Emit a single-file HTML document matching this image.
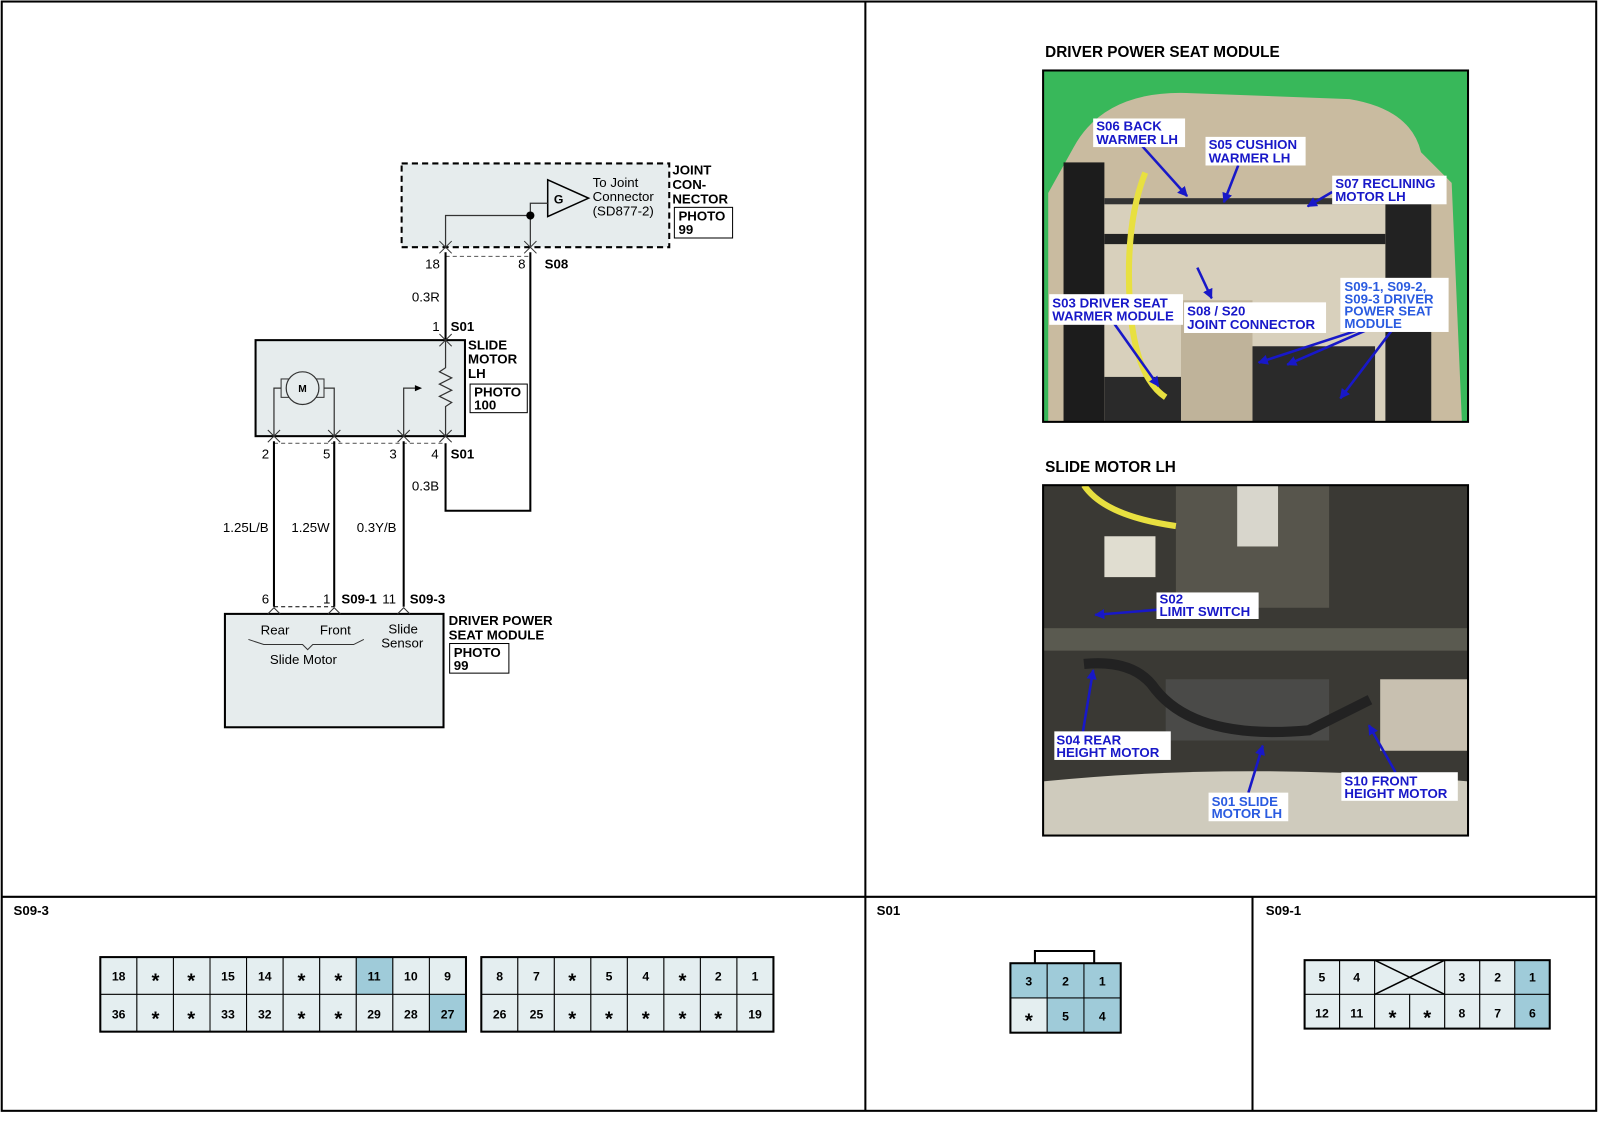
<!DOCTYPE html>
<html><head><meta charset="utf-8"><style>
html,body{margin:0;padding:0;background:#fff;width:1600px;height:1143px;overflow:hidden}
svg{display:block}
text{font-family:"Liberation Sans",Arial,sans-serif}
.b{font-weight:bold}
.c{text-anchor:middle;font-weight:bold;font-size:12px}
.s{text-anchor:middle;font-weight:bold;font-size:20px}
.lbl{font-weight:bold;font-size:13px;fill:#1818c8}
</style></head><body>
<svg width="1600" height="1143" viewBox="0 0 1566 1119" xmlns="http://www.w3.org/2000/svg">
<defs>
<marker id="ah" viewBox="0 0 10 10" refX="9" refY="5" markerWidth="4" markerHeight="4" orient="auto"><path d="M0,0 L10,5 L0,10 Z" fill="#1818c8"/></marker>
</defs>
<!-- frame -->
<rect x="1.5" y="1.5" width="1561" height="1086" fill="none" stroke="#000" stroke-width="2"/>
<line x1="847" y1="1" x2="847" y2="1088" stroke="#000" stroke-width="2"/>
<line x1="1" y1="878" x2="1563" y2="878" stroke="#000" stroke-width="2"/>
<line x1="1226" y1="878" x2="1226" y2="1088" stroke="#000" stroke-width="2"/>

<!-- ===== Schematic ===== -->
<rect x="393" y="160" width="262" height="82" fill="#e6eced" stroke="#000" stroke-width="2" stroke-dasharray="6,4"/>
<polygon points="536,176 536,212 576,194" fill="#e6eced" stroke="#000" stroke-width="1.5"/>
<text x="542" y="199" font-size="12" class="b">G</text>
<text x="580" y="183" font-size="13">To Joint</text>
<text x="580" y="197" font-size="13">Connector</text>
<text x="580" y="211" font-size="13">(SD877-2)</text>
<g fill="none" stroke="#333" stroke-width="1.2">
<polyline points="536,199 519,199 519,241"/>
<polyline points="519,211 436,211 436,241"/>
</g>
<circle cx="519" cy="211" r="4" fill="#000"/>
<g fill="none" stroke="#333" stroke-width="1">
<polyline points="430,236 436,242 442,236"/><polyline points="430,248 436,242 442,248"/>
<polyline points="513,236 519,242 525,236"/><polyline points="513,248 519,242 525,248"/>
</g>
<line x1="436" y1="251" x2="519" y2="251" stroke="#555" stroke-dasharray="4,3"/>
<text x="416" y="263" font-size="13">18</text>
<text x="507" y="263" font-size="13">8</text>
<text x="533" y="263" font-size="13" class="b">S08</text>
<g stroke="#000" stroke-width="2" fill="none">
<line x1="436" y1="247" x2="436" y2="333"/>
<polyline points="519,247 519,500 436,500 436,434"/>
</g>
<text x="403" y="295" font-size="13">0.3R</text>
<text x="423" y="324" font-size="13">1</text>
<text x="441" y="324" font-size="13" class="b">S01</text>
<rect x="250" y="333" width="205" height="94" fill="#e6eced" stroke="#000" stroke-width="2"/>
<g fill="none" stroke="#333" stroke-width="1">
<polyline points="430,339 436,333 442,339"/><polyline points="430,327 436,333 442,327"/>
</g>
<text x="458" y="342" font-size="13" class="b">SLIDE</text>
<text x="458" y="356" font-size="13" class="b">MOTOR</text>
<text x="458" y="370" font-size="13" class="b">LH</text>
<rect x="460" y="376" width="56" height="28" fill="#fff" stroke="#000"/>
<text x="464" y="388" font-size="13" class="b">PHOTO</text>
<text x="464" y="401" font-size="13" class="b">100</text>
<text x="658" y="171" font-size="13" class="b">JOINT</text>
<text x="658" y="185" font-size="13" class="b">CON-</text>
<text x="658" y="199" font-size="13" class="b">NECTOR</text>
<rect x="660" y="203" width="57" height="30" fill="#fff" stroke="#000"/>
<text x="664" y="216" font-size="13" class="b">PHOTO</text>
<text x="664" y="229" font-size="13" class="b">99</text>
<rect x="275" y="371" width="8" height="18" fill="#e6eced" stroke="#333"/>
<rect x="309" y="371" width="8" height="18" fill="#e6eced" stroke="#333"/>
<circle cx="296" cy="380" r="16" fill="#e6eced" stroke="#333" stroke-width="1.2"/>
<text x="296" y="384" font-size="10" text-anchor="middle" class="b">M</text>
<g fill="none" stroke="#333" stroke-width="1.2">
<polyline points="275,380 268,380 268,427"/>
<polyline points="317,380 327,380 327,427"/>
<polyline points="395,427 395,380 408,380"/>
<polyline points="436,333 436,360 430,364 442,370 430,376 442,382 430,388 442,394 436,398 436,427"/>
</g>
<polygon points="406,377 413,380 406,383" fill="#000"/>
<g fill="none" stroke="#333" stroke-width="1">
<polyline points="262,421 268,427 274,421"/><polyline points="262,433 268,427 274,433"/>
<polyline points="321,421 327,427 333,421"/><polyline points="321,433 327,427 333,433"/>
<polyline points="389,421 395,427 401,421"/><polyline points="389,433 395,427 401,433"/>
<polyline points="430,421 436,427 442,421"/><polyline points="430,433 436,427 442,433"/>
</g>
<line x1="268" y1="434" x2="436" y2="434" stroke="#666" stroke-dasharray="4,3"/>
<text x="256" y="449" font-size="13">2</text>
<text x="316" y="449" font-size="13">5</text>
<text x="381" y="449" font-size="13">3</text>
<text x="422" y="449" font-size="13">4</text>
<text x="441" y="449" font-size="13" class="b">S01</text>
<text x="403" y="480" font-size="13">0.3B</text>
<g stroke="#000" stroke-width="2">
<line x1="268" y1="432" x2="268" y2="594"/>
<line x1="327" y1="432" x2="327" y2="594"/>
<line x1="395" y1="432" x2="395" y2="594"/>
</g>
<text x="218" y="521" font-size="13">1.25L/B</text>
<text x="285" y="521" font-size="13">1.25W</text>
<text x="349" y="521" font-size="13">0.3Y/B</text>
<text x="256" y="591" font-size="13">6</text>
<text x="316" y="591" font-size="13">1</text>
<text x="334" y="591" font-size="13" class="b">S09-1</text>
<text x="374" y="591" font-size="13">11</text>
<text x="401" y="591" font-size="13" class="b">S09-3</text>
<line x1="268" y1="594" x2="327" y2="594" stroke="#000" stroke-dasharray="4,3"/>
<rect x="220" y="601" width="214" height="111" fill="#e6eced" stroke="#000" stroke-width="2"/>
<g fill="none" stroke="#333" stroke-width="1">
<polyline points="262,601 268,595 274,601"/>
<polyline points="321,601 327,595 333,601"/>
<polyline points="389,601 395,595 401,601"/>
<path d="M243,626 L258,631 L296,631 L301,636 L306,631 L346,631 L356,626"/>
</g>
<text x="255" y="621" font-size="13">Rear</text>
<text x="313" y="621" font-size="13">Front</text>
<text x="380" y="620" font-size="13">Slide</text>
<text x="373" y="634" font-size="13">Sensor</text>
<text x="264" y="650" font-size="13">Slide Motor</text>
<text x="439" y="612" font-size="13" class="b">DRIVER POWER</text>
<text x="439" y="626" font-size="13" class="b">SEAT MODULE</text>
<rect x="440" y="630" width="58" height="29" fill="#fff" stroke="#000"/>
<text x="444" y="643" font-size="13" class="b">PHOTO</text>
<text x="444" y="656" font-size="13" class="b">99</text>

<!-- ===== Photo 1 ===== -->
<text x="1023" y="56" font-size="15" class="b">DRIVER POWER SEAT MODULE</text>
<svg x="1021" y="69" width="416" height="344" viewBox="0 0 416 344">
<rect width="416" height="344" fill="#38b85a"/>
<path d="M30,75 Q60,20 140,22 L300,28 Q360,38 370,80 L400,110 L410,344 L5,344 L5,120 Z" fill="#c9bba0"/>
<rect x="20" y="90" width="40" height="254" fill="#1c1c1c"/>
<rect x="335" y="120" width="45" height="224" fill="#222"/>
<rect x="60" y="125" width="275" height="219" fill="#d8d0bc"/>
<rect x="60" y="160" width="275" height="10" fill="#222"/>
<rect x="60" y="125" width="275" height="6" fill="#333"/>
<rect x="135" y="225" width="70" height="119" fill="#bfb39a"/>
<rect x="205" y="270" width="120" height="74" fill="#2a2a2a"/>
<rect x="60" y="300" width="75" height="44" fill="#2a2a2a"/>
<path d="M100,100 Q80,150 85,230 Q90,300 120,320" stroke="#e8e040" stroke-width="6" fill="none"/>
</svg>
<g stroke="#1818c8" stroke-width="2.5" fill="none" marker-end="url(#ah)">
<line x1="1118" y1="143" x2="1162" y2="192"/>
<line x1="1212" y1="162" x2="1198" y2="198"/>
<line x1="1304" y1="188" x2="1280" y2="202"/>
<line x1="1172" y1="262" x2="1186" y2="292"/>
<line x1="1090" y1="316" x2="1134" y2="378"/>
<line x1="1330" y1="323" x2="1232" y2="355"/>
<line x1="1338" y1="323" x2="1260" y2="357"/>
<line x1="1362" y1="324" x2="1312" y2="390"/>
</g>
<rect x="1070" y="116" width="90" height="28" fill="#fff"/>
<text x="1073" y="128" class="lbl">S06 BACK</text><text x="1073" y="141" class="lbl">WARMER LH</text>
<rect x="1180" y="134" width="98" height="28" fill="#fff"/>
<text x="1183" y="146" class="lbl">S05 CUSHION</text><text x="1183" y="159" class="lbl">WARMER LH</text>
<rect x="1304" y="172" width="112" height="28" fill="#fff"/>
<text x="1307" y="184" class="lbl">S07 RECLINING</text><text x="1307" y="197" class="lbl">MOTOR LH</text>
<rect x="1027" y="288" width="131" height="30" fill="#fff"/>
<text x="1030" y="301" class="lbl">S03 DRIVER SEAT</text><text x="1030" y="314" class="lbl">WARMER MODULE</text>
<rect x="1159" y="296" width="139" height="30" fill="#fff"/>
<text x="1162" y="309" class="lbl">S08 / S20</text><text x="1162" y="322" class="lbl">JOINT CONNECTOR</text>
<rect x="1312" y="272" width="106" height="53" fill="#fff"/>
<text x="1316" y="285" class="lbl" style="fill:#2a5be0">S09-1, S09-2,</text>
<text x="1316" y="297" class="lbl" style="fill:#2a5be0">S09-3 DRIVER</text>
<text x="1316" y="309" class="lbl" style="fill:#2a5be0">POWER SEAT</text>
<text x="1316" y="321" class="lbl" style="fill:#2a5be0">MODULE</text>
<rect x="1021" y="69" width="416" height="344" fill="none" stroke="#000" stroke-width="2"/>

<!-- ===== Photo 2 ===== -->
<text x="1023" y="462" font-size="15" class="b">SLIDE MOTOR LH</text>
<svg x="1021" y="475" width="416" height="343" viewBox="0 0 416 343">
<rect width="416" height="343" fill="#3a3934"/>
<rect x="130" y="0" width="150" height="120" fill="#57554c"/>
<rect x="190" y="0" width="40" height="60" fill="#d8d6cc"/>
<rect x="60" y="50" width="50" height="40" fill="#e0ddd0"/>
<rect x="0" y="140" width="416" height="22" fill="#5a5a50"/>
<rect x="120" y="190" width="160" height="60" fill="#4a4a48"/>
<rect x="330" y="190" width="86" height="70" fill="#c8c0b0"/>
<path d="M0,290 Q200,270 416,290 L416,343 L0,343 Z" fill="#cfcbbd"/>
<path d="M40,0 Q60,30 130,40" stroke="#e8e040" stroke-width="6" fill="none"/>
<path d="M40,175 Q90,170 110,200 Q150,250 260,240 L320,210" stroke="#222" stroke-width="10" fill="none"/>
</svg>
<g stroke="#1818c8" stroke-width="2.5" fill="none" marker-end="url(#ah)">
<line x1="1132" y1="597" x2="1072" y2="602"/>
<line x1="1060" y1="716" x2="1070" y2="656"/>
<line x1="1222" y1="776" x2="1236" y2="730"/>
<line x1="1366" y1="756" x2="1340" y2="710"/>
</g>
<rect x="1132" y="580" width="100" height="26" fill="#fff"/>
<text x="1135" y="591" class="lbl">S02</text><text x="1135" y="603" class="lbl">LIMIT SWITCH</text>
<rect x="1032" y="716" width="114" height="28" fill="#fff"/>
<text x="1034" y="729" class="lbl">S04 REAR</text><text x="1034" y="741" class="lbl">HEIGHT MOTOR</text>
<rect x="1183" y="776" width="78" height="28" fill="#fff"/>
<text x="1186" y="789" class="lbl" style="fill:#2a5be0">S01 SLIDE</text><text x="1186" y="801" class="lbl" style="fill:#2a5be0">MOTOR LH</text>
<rect x="1313" y="756" width="114" height="28" fill="#fff"/>
<text x="1316" y="769" class="lbl">S10 FRONT</text><text x="1316" y="781" class="lbl">HEIGHT MOTOR</text>
<rect x="1021" y="475" width="416" height="343" fill="none" stroke="#000" stroke-width="2"/>

<!-- ===== Bottom connectors ===== -->
<text x="13" y="896" font-size="13" class="b">S09-3</text>
<text x="858" y="896" font-size="13" class="b">S01</text>
<text x="1239" y="896" font-size="13" class="b">S09-1</text>

<g stroke="#000" stroke-width="1" fill="#e4eef0">
<rect x="98" y="937" width="35.8" height="36.5"/><rect x="133.8" y="937" width="35.8" height="36.5"/><rect x="169.6" y="937" width="35.8" height="36.5"/><rect x="205.4" y="937" width="35.8" height="36.5"/><rect x="241.2" y="937" width="35.8" height="36.5"/><rect x="277" y="937" width="35.8" height="36.5"/><rect x="312.8" y="937" width="35.8" height="36.5"/><rect x="348.6" y="937" width="35.8" height="36.5" fill="#9fcbd9"/><rect x="384.4" y="937" width="35.8" height="36.5"/><rect x="420.2" y="937" width="35.8" height="36.5"/>
<rect x="98" y="973.5" width="35.8" height="36.5"/><rect x="133.8" y="973.5" width="35.8" height="36.5"/><rect x="169.6" y="973.5" width="35.8" height="36.5"/><rect x="205.4" y="973.5" width="35.8" height="36.5"/><rect x="241.2" y="973.5" width="35.8" height="36.5"/><rect x="277" y="973.5" width="35.8" height="36.5"/><rect x="312.8" y="973.5" width="35.8" height="36.5"/><rect x="348.6" y="973.5" width="35.8" height="36.5"/><rect x="384.4" y="973.5" width="35.8" height="36.5"/><rect x="420.2" y="973.5" width="35.8" height="36.5" fill="#9fcbd9"/>
<rect x="471" y="937" width="35.75" height="36.5"/><rect x="506.75" y="937" width="35.75" height="36.5"/><rect x="542.5" y="937" width="35.75" height="36.5"/><rect x="578.25" y="937" width="35.75" height="36.5"/><rect x="614" y="937" width="35.75" height="36.5"/><rect x="649.75" y="937" width="35.75" height="36.5"/><rect x="685.5" y="937" width="35.75" height="36.5"/><rect x="721.25" y="937" width="35.75" height="36.5"/>
<rect x="471" y="973.5" width="35.75" height="36.5"/><rect x="506.75" y="973.5" width="35.75" height="36.5"/><rect x="542.5" y="973.5" width="35.75" height="36.5"/><rect x="578.25" y="973.5" width="35.75" height="36.5"/><rect x="614" y="973.5" width="35.75" height="36.5"/><rect x="649.75" y="973.5" width="35.75" height="36.5"/><rect x="685.5" y="973.5" width="35.75" height="36.5"/><rect x="721.25" y="973.5" width="35.75" height="36.5"/>
<rect x="989" y="943" width="36" height="34" fill="#9fcbd9"/><rect x="1025" y="943" width="36" height="34" fill="#9fcbd9"/><rect x="1061" y="943" width="36" height="34" fill="#9fcbd9"/>
<rect x="989" y="977" width="36" height="34"/><rect x="1025" y="977" width="36" height="34" fill="#9fcbd9"/><rect x="1061" y="977" width="36" height="34" fill="#9fcbd9"/>
<rect x="1277" y="940" width="34.3" height="33.5"/><rect x="1311.3" y="940" width="34.3" height="33.5"/><rect x="1345.6" y="940" width="68.6" height="33.5"/><rect x="1414.2" y="940" width="34.3" height="33.5"/><rect x="1448.5" y="940" width="34.3" height="33.5"/><rect x="1482.8" y="940" width="34.3" height="33.5" fill="#9fcbd9"/>
<rect x="1277" y="973.5" width="34.3" height="33.5"/><rect x="1311.3" y="973.5" width="34.3" height="33.5"/><rect x="1345.6" y="973.5" width="34.3" height="33.5"/><rect x="1379.9" y="973.5" width="34.3" height="33.5"/><rect x="1414.2" y="973.5" width="34.3" height="33.5"/><rect x="1448.5" y="973.5" width="34.3" height="33.5"/><rect x="1482.8" y="973.5" width="34.3" height="33.5" fill="#9fcbd9"/>
</g>
<g fill="none" stroke="#000" stroke-width="2">
<rect x="98" y="937" width="358" height="73"/>
<rect x="471" y="937" width="286" height="73"/>
<rect x="989" y="943" width="108" height="68"/>
<polyline points="1013,943 1013,931 1071,931 1071,943"/>
<rect x="1277" y="940" width="240" height="67"/>
<line x1="1345.6" y1="940" x2="1414.2" y2="973.5" stroke-width="1.5"/>
<line x1="1414.2" y1="940" x2="1345.6" y2="973.5" stroke-width="1.5"/>
</g>
<g>
<text x="116" y="960" class="c">18</text><text x="152" y="967" class="s">*</text><text x="187" y="967" class="s">*</text><text x="223" y="960" class="c">15</text><text x="259" y="960" class="c">14</text><text x="295" y="967" class="s">*</text><text x="331" y="967" class="s">*</text><text x="366" y="960" class="c">11</text><text x="402" y="960" class="c">10</text><text x="438" y="960" class="c">9</text>
<text x="116" y="997" class="c">36</text><text x="152" y="1004" class="s">*</text><text x="187" y="1004" class="s">*</text><text x="223" y="997" class="c">33</text><text x="259" y="997" class="c">32</text><text x="295" y="1004" class="s">*</text><text x="331" y="1004" class="s">*</text><text x="366" y="997" class="c">29</text><text x="402" y="997" class="c">28</text><text x="438" y="997" class="c">27</text>
<text x="489" y="960" class="c">8</text><text x="525" y="960" class="c">7</text><text x="560" y="967" class="s">*</text><text x="596" y="960" class="c">5</text><text x="632" y="960" class="c">4</text><text x="668" y="967" class="s">*</text><text x="703" y="960" class="c">2</text><text x="739" y="960" class="c">1</text>
<text x="489" y="997" class="c">26</text><text x="525" y="997" class="c">25</text><text x="560" y="1004" class="s">*</text><text x="596" y="1004" class="s">*</text><text x="632" y="1004" class="s">*</text><text x="668" y="1004" class="s">*</text><text x="703" y="1004" class="s">*</text><text x="739" y="997" class="c">19</text>
<text x="1007" y="965" class="c">3</text><text x="1043" y="965" class="c">2</text><text x="1079" y="965" class="c">1</text>
<text x="1007" y="1006" class="s">*</text><text x="1043" y="999" class="c">5</text><text x="1079" y="999" class="c">4</text>
<text x="1294" y="961" class="c">5</text><text x="1328" y="961" class="c">4</text><text x="1431" y="961" class="c">3</text><text x="1466" y="961" class="c">2</text><text x="1500" y="961" class="c">1</text>
<text x="1294" y="996" class="c">12</text><text x="1328" y="996" class="c">11</text><text x="1363" y="1003" class="s">*</text><text x="1397" y="1003" class="s">*</text><text x="1431" y="996" class="c">8</text><text x="1466" y="996" class="c">7</text><text x="1500" y="996" class="c">6</text>
</g>
</svg>
</body></html>
